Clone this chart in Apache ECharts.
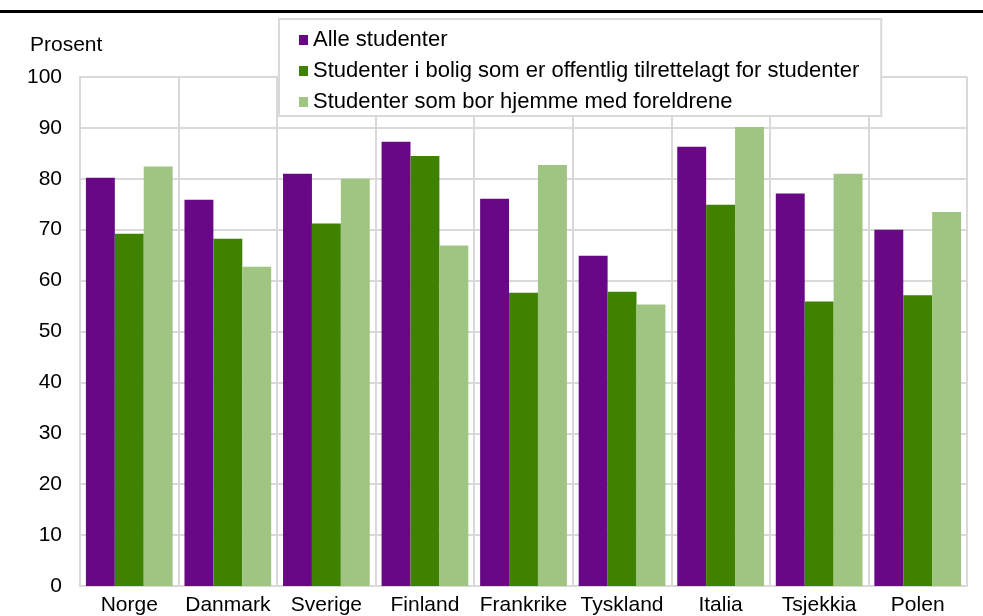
<!DOCTYPE html>
<html><head><meta charset="utf-8">
<script src="https://cdn.jsdelivr.net/npm/echarts@6/dist/echarts.min.js"></script>
<style>html,body{margin:0;padding:0;background:#fff}#c{width:983px;height:616px}</style>
</head><body><div id="c"></div>
<script>
const categories = ['Norge','Danmark','Sverige','Finland','Frankrike','Tyskland','Italia','Tsjekkia','Polen'];
const seriesNames = ['Alle studenter','Studenter i bolig som er offentlig tilrettelagt for studenter','Studenter som bor hjemme med foreldrene'];
const alle = [80.2, 75.9, 81.0, 87.3, 76.1, 64.9, 86.3, 77.1, 70.0];
const offentlig = [69.2, 68.2, 71.2, 84.5, 57.6, 57.8, 74.9, 55.9, 57.1];
const hjemme = [82.4, 62.7, 80.0, 66.9, 82.7, 55.3, 90.2, 81.0, 73.5];
const colors = ['#680887', '#3f8200', '#a0c481'];

const chart = echarts.init(document.getElementById('c'));
const font = 'Liberation Sans, Arial, sans-serif';
chart.setOption({
  animation: false,
  textStyle: {fontFamily: font},
  graphic: [
    {type: 'rect', shape: {x: 0, y: 10, width: 983, height: 3}, style: {fill: '#000'}, z: 10},
    {type: 'text', left: 30, top: 35, style: {text: 'Prosent', font: '21px ' + font, fill: '#000'}}
  ],
  legend: {
    orient: 'vertical', left: 279, top: 19,
    backgroundColor: '#fff', borderColor: '#d9d9d9', borderWidth: 2,
    padding: [10, 22, 3, 20], itemGap: 9,
    itemWidth: 9, itemHeight: 10,
    textStyle: {fontSize: 22, color: '#000', fontFamily: font},
    icon: 'rect',
    data: seriesNames
  },
  grid: {left: 80, right: 16, top: 77, bottom: 29, containLabel: false},
  xAxis: {
    type: 'category', data: categories,
    axisLine: {lineStyle: {color: '#d9d9d9', width: 2}},
    axisTick: {show: false},
    splitLine: {show: true, lineStyle: {color: '#d9d9d9', width: 2}},
    axisLabel: {color: '#000', fontSize: 21, margin: 9, fontFamily: font, interval: 0}
  },
  yAxis: {
    type: 'value', min: 0, max: 100, interval: 10,
    axisLine: {show: true, lineStyle: {color: '#d9d9d9', width: 2}},
    axisTick: {show: false},
    splitLine: {lineStyle: {color: '#d9d9d9', width: 2}},
    axisLabel: {color: '#000', fontSize: 21, margin: 18, fontFamily: font, padding: [3, 0, 0, 0]}
  },
  series: [
    {name: seriesNames[0], type: 'bar', data: alle, itemStyle: {color: colors[0]}, barGap: '0%', barCategoryGap: '12%'},
    {name: seriesNames[1], type: 'bar', data: offentlig, itemStyle: {color: colors[1]}},
    {name: seriesNames[2], type: 'bar', data: hjemme, itemStyle: {color: colors[2]}}
  ]
});
</script></body></html>
